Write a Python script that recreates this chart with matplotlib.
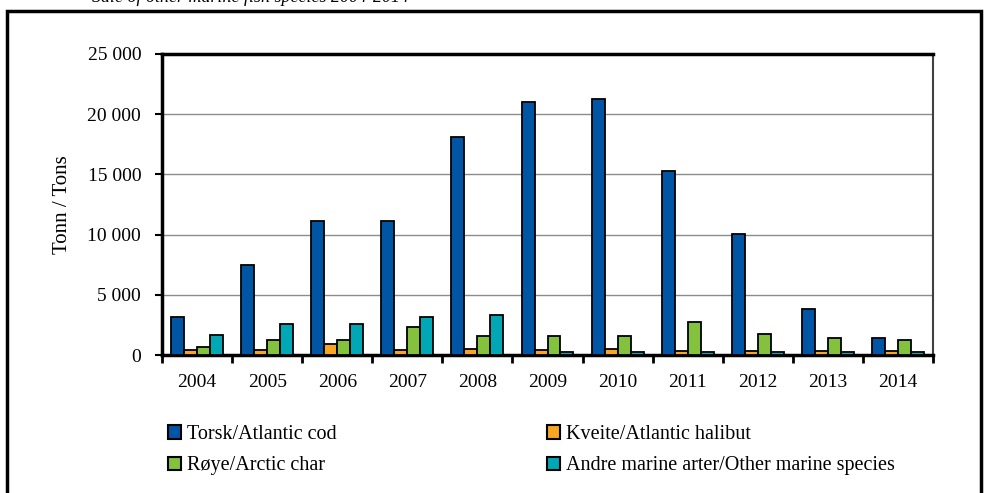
import numpy as np
import matplotlib
matplotlib.use('Agg')
import matplotlib.pyplot as plt
from matplotlib.patches import Rectangle, Patch
from matplotlib.ticker import FuncFormatter, FixedLocator

plt.rcParams['font.family'] = ['Liberation Serif', 'DejaVu Serif']

# Data
years = ['2004', '2005', '2006', '2007', '2008', '2009', '2010', '2011', '2012', '2013', '2014']
cod = [3190, 7440, 11130, 11130, 18080, 20990, 21260, 15260, 10080, 3780, 1390]
halibut = [400, 390, 890, 440, 500, 440, 500, 330, 360, 330, 310]
char = [640, 1220, 1220, 2300, 1580, 1550, 1600, 2780, 1780, 1390, 1250]
other = [1670, 2610, 2550, 3170, 3300, 250, 280, 280, 280, 220, 250]

series = [('Torsk/Atlantic cod', cod, '#0055A5'),
          ('Kveite/Atlantic halibut', halibut, '#F6A623'),
          ('Røye/Arctic char', char, '#84C13D'),
          ('Andre marine arter/Other marine species', other, '#00A8B6')]

W, H = 984, 493
fig = plt.figure(figsize=(W / 100, H / 100), dpi=100)
ax = fig.add_axes([162/W, 1 - 355/H, (933 - 162)/W, (355 - 54)/H])

x = np.arange(len(years))
w = 0.185
for i, (name, vals, col) in enumerate(series):
    ax.bar(x + (i - 1.5) * w, vals, width=w, color=col, edgecolor='black',
           linewidth=1.3, label=name, zorder=3)

ax.set_xlim(-0.5, len(years) - 0.5)
ax.set_ylim(0, 25000)
ax.set_yticks(np.arange(0, 25001, 5000))
ax.yaxis.set_major_formatter(FuncFormatter(lambda v, p: f'{int(v):,}'.replace(',', ' ')))
ax.grid(axis='y', color='#8c8c8c', linewidth=1, zorder=0)

# årstall midt i gruppa, tick-strek mellom gruppene
ax.set_xticks(x)
ax.set_xticklabels(years, fontsize=14)
ax.tick_params(axis='x', length=0, pad=14)
ax.xaxis.set_minor_locator(FixedLocator(np.arange(-0.5, len(years), 1)))
ax.tick_params(axis='x', which='minor', length=6, width=2, direction='out')
ax.tick_params(axis='y', length=5, width=1.5, direction='out', labelsize=14, pad=10)

for s in ['left', 'bottom', 'top']:
    ax.spines[s].set_linewidth(2.5)
ax.spines['right'].set_linewidth(1.5)
ax.spines['right'].set_color('#404040')

ax.set_ylabel('Tonn / Tons', fontsize=15)
ax.yaxis.set_label_coords((72 - 162) / (933 - 162), 0.5)

handles = [Patch(facecolor=c, edgecolor='black', linewidth=1.5) for _, _, c in series]
labels = [n for n, _, _ in series]
leg_kw = dict(loc='upper left', frameon=False, fontsize=14.5, handlelength=0.65,
              handleheight=0.65, handletextpad=0.3, labelspacing=0.62,
              borderpad=0, borderaxespad=0)
fig.legend([handles[0], handles[2]], [labels[0], labels[2]],
           bbox_to_anchor=(168/W, 1 - 425/H), **leg_kw)
fig.legend([handles[1], handles[3]], [labels[1], labels[3]],
           bbox_to_anchor=(547/W, 1 - 425/H), **leg_kw)

# ytre ramme
fig.add_artist(Rectangle((7/W, -0.05), (981 - 7)/W, 1.05 - 11/H,
                         transform=fig.transFigure, fill=False,
                         edgecolor='black', linewidth=2.5))

fig.text(251/W, 1 - 2/H, 'Sale of other marine fish species 2004-2014',
         ha='center', va='baseline', fontsize=13, style='italic')

fig.savefig('out.png', dpi=100)
